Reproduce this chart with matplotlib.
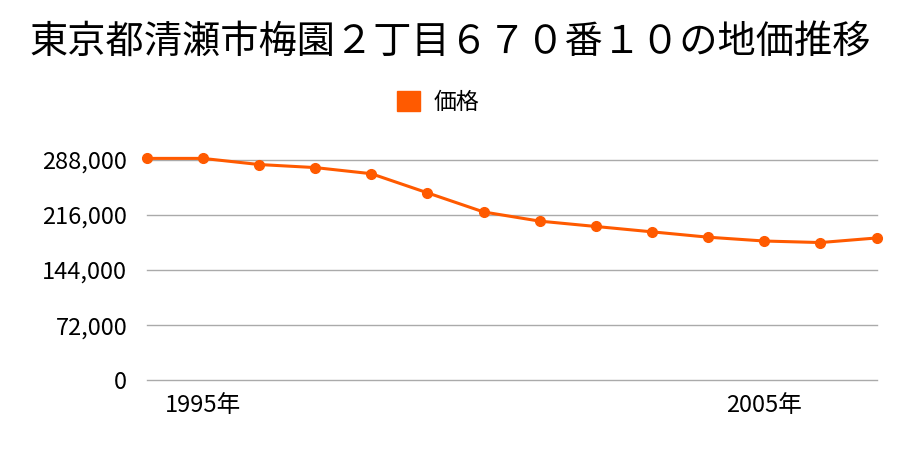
import matplotlib
matplotlib.use("Agg")
import matplotlib.pyplot as plt
from matplotlib.ticker import FuncFormatter

plt.rcParams["font.family"] = ["Noto Sans CJK JP", "DejaVu Sans"]

title = "東京都清瀬市梅園２丁目６７０番１０の地価推移"
series_name = "価格"
years = [1994, 1995, 1996, 1997, 1998, 1999, 2000, 2001, 2002, 2003, 2004, 2005, 2006, 2007]
prices = [290000, 290000, 282000, 278000, 270000, 245000, 220000, 208000,
          201000, 194000, 187000, 182000, 180000, 186000]
yticks = [0, 72000, 144000, 216000, 288000]
xticks = [1995, 2005]

color = "#ff5a00"

fig = plt.figure(figsize=(9, 4.5), dpi=100)
ax = fig.add_axes([0.163, 0.155, 0.811, 0.51])

ax.plot(years, prices, color=color, linewidth=2.2, marker="o",
        markersize=7, clip_on=False, zorder=3, label=series_name)

ax.set_xlim(years[0], years[-1])
ax.set_ylim(0, 300000)
ax.set_yticks(yticks)
ax.yaxis.set_major_formatter(FuncFormatter(lambda v, p: f"{int(v):,}"))
ax.set_xticks(xticks)
ax.set_xticklabels([f"{y}年" for y in xticks])

ax.grid(axis="y", color="#aaaaaa", linewidth=1)
for gl in ax.get_ygridlines():
    gl.set_clip_on(False)
ax.set_axisbelow(True)
for s in ax.spines.values():
    s.set_visible(False)
ax.tick_params(axis="both", length=0)
ax.tick_params(axis="y", pad=14, labelsize=17)
ax.tick_params(axis="x", pad=10, labelsize=17)

fig.text(0.5, 0.907, title, ha="center", va="center", fontsize=27.5)
fig.legend(handles=[plt.Rectangle((0, 0), 1, 1, color=color)], labels=[series_name],
           loc="center", bbox_to_anchor=(0.487, 0.773), frameon=False,
           fontsize=16.5, handlelength=1.0, handleheight=1.0, handletextpad=0.57)

fig.savefig("out.png", dpi=100)
